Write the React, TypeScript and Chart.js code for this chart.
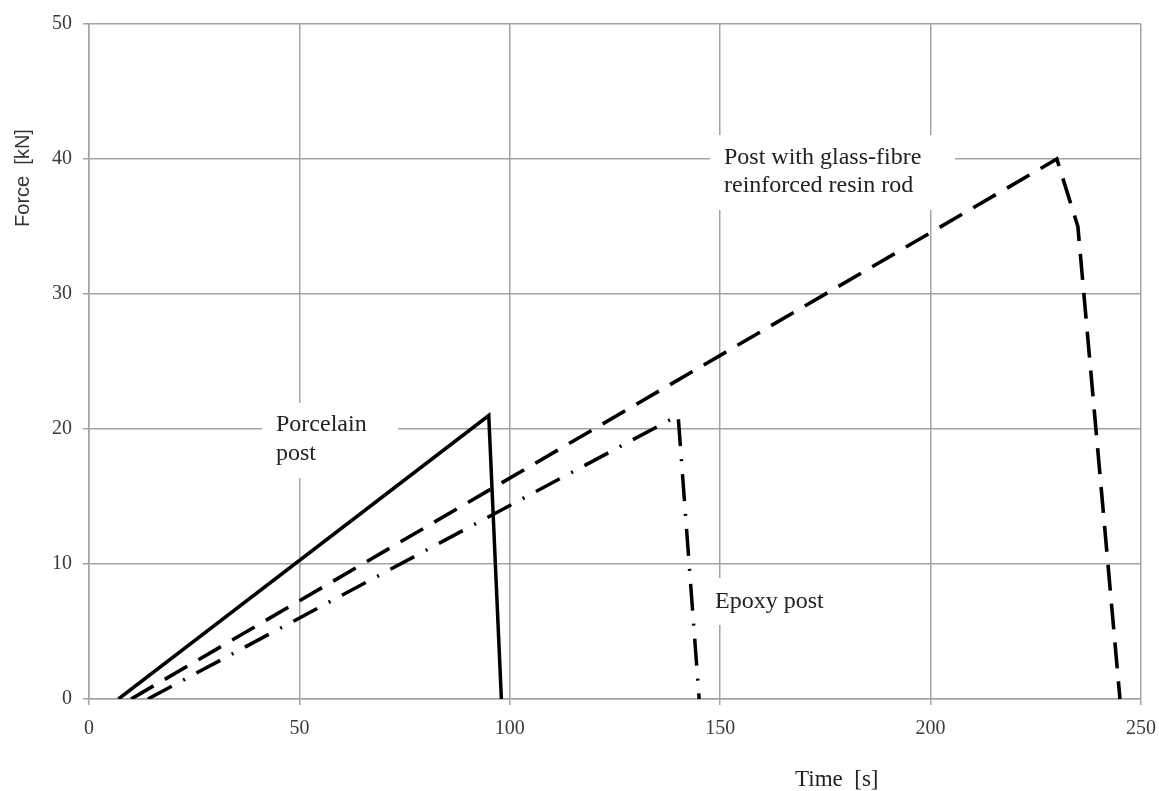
import React, { useEffect, useRef } from "react";
import { Chart, registerables } from "chart.js";

Chart.register(...registerables);

// Data
const porcelainTime = [7, 95, 98];
const porcelainForce = [0, 21, 0];
const glassTime = [10, 230, 235, 245];
const glassForce = [0, 40, 35, 0];
const epoxyTime = [14, 140, 145];
const epoxyForce = [0, 21, 0];

const xTicks = [0, 50, 100, 150, 200, 250];
const yTicks = [0, 10, 20, 30, 40, 50];

const seriesNames = ["Porcelain post", "Post with glass-fibre reinforced resin rod", "Epoxy post"];

const zip = (xs: number[], ys: number[]) => xs.map((x, i) => ({ x, y: ys[i] }));

const SERIF = "'Liberation Serif', 'Times New Roman', serif";
const SANS = "'Liberation Sans', Arial, sans-serif";

const annotationPlugin = {
  id: "annotations",
  beforeDatasetsDraw(chart: any) {
    const ctx = chart.ctx;
    const boxes = [
      { x0: 262, y0: 403, x1: 398, y1: 478 },
      { x0: 710, y0: 135, x1: 955, y1: 210 },
      { x0: 705, y0: 578, x1: 830, y1: 625 },
    ];
    ctx.save();
    ctx.fillStyle = "#ffffff";
    boxes.forEach((b) => ctx.fillRect(b.x0, b.y0, b.x1 - b.x0, b.y1 - b.y0));
    ctx.restore();
  },
  afterDraw(chart: any) {
    const ctx = chart.ctx;
    ctx.save();
    ctx.fillStyle = "#222222";
    ctx.textBaseline = "middle";
    ctx.textAlign = "left";
    ctx.font = `24px ${SERIF}`;
    ctx.fillText("Porcelain", 276, 425);
    ctx.fillText("post", 276, 454);
    ctx.fillText("Post with glass-fibre", 724, 158);
    ctx.fillText("reinforced resin rod", 724, 186);
    ctx.fillText("Epoxy post", 715, 602);

    ctx.font = `23px ${SERIF}`;
    ctx.fillText("Time  [s]", 795, 780);

    ctx.translate(23, 178);
    ctx.rotate(-Math.PI / 2);
    ctx.textAlign = "center";
    ctx.font = `20px ${SANS}`;
    ctx.fillStyle = "#333333";
    ctx.fillText("Force  [kN]", 0, 0);
    ctx.restore();
  },
};

export default function App() {
  const ref = useRef<HTMLCanvasElement | null>(null);

  useEffect(() => {
    document.body.style.margin = "0";
    const canvas = ref.current;
    if (!canvas) return;
    const gridColor = "#a3a3a3";
    const chart = new Chart(canvas, {
      type: "line",
      data: {
        datasets: [
          {
            label: seriesNames[0],
            data: zip(porcelainTime, porcelainForce),
            borderColor: "#000",
            borderWidth: 3.5,
            pointRadius: 0,
            tension: 0,
          },
          {
            label: seriesNames[1],
            data: zip(glassTime, glassForce),
            borderColor: "#000",
            borderWidth: 3.6,
            borderDash: [26, 13],
            pointRadius: 0,
            tension: 0,
          },
          {
            label: seriesNames[2],
            data: zip(epoxyTime, epoxyForce),
            borderColor: "#000",
            borderWidth: 3.5,
            borderDash: [27, 13, 2, 13],
            pointRadius: 0,
            tension: 0,
          },
        ],
      },
      options: {
        animation: false,
        responsive: false,
        devicePixelRatio: 1,
        layout: { padding: { top: 24, right: 18, left: 0, bottom: 0 } },
        plugins: { legend: { display: false }, tooltip: { enabled: false } },
        scales: {
          x: {
            type: "linear",
            min: 0,
            max: 250,
            afterBuildTicks: (scale: any) => {
              scale.ticks = xTicks.map((v) => ({ value: v }));
            },
            afterFit: (scale: any) => {
              scale.height = 92;
              scale.paddingLeft = 0;
              scale.paddingRight = 0;
            },
            ticks: {
              font: { family: SERIF, size: 20 },
              color: "#3a3a3a",
              padding: 12,
              maxRotation: 0,
            },
            grid: { color: gridColor, lineWidth: 1.5, tickLength: 6, drawTicks: true },
            border: { color: gridColor, width: 1.5 },
          },
          y: {
            type: "linear",
            min: 0,
            max: 50,
            afterBuildTicks: (scale: any) => {
              scale.ticks = yTicks.map((v) => ({ value: v }));
            },
            afterFit: (scale: any) => {
              scale.width = 89;
              scale.paddingTop = 0;
              scale.paddingBottom = 0;
            },
            ticks: {
              font: { family: SERIF, size: 20 },
              color: "#3a3a3a",
              padding: 11,
            },
            grid: { color: gridColor, lineWidth: 1.5, tickLength: 6, drawTicks: true },
            border: { color: gridColor, width: 1.5 },
          },
        },
      },
      plugins: [annotationPlugin],
    } as any);
    return () => chart.destroy();
  }, []);

  return (
    <div style={{ width: 1159, height: 791, background: "#fff" }}>
      <canvas ref={ref} width={1159} height={791} style={{ display: "block" }} />
    </div>
  );
}
